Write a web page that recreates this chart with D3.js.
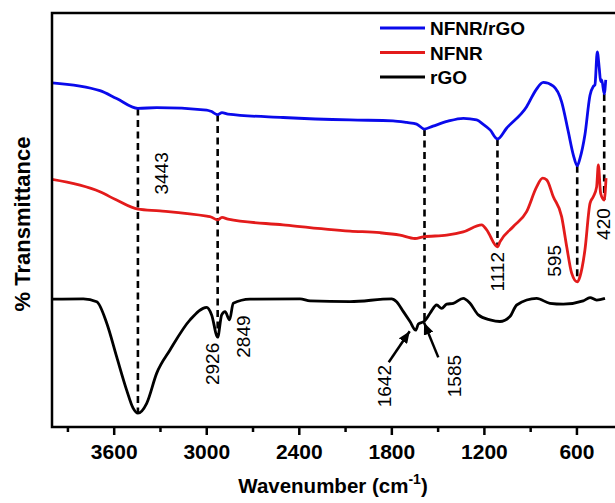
<!DOCTYPE html>
<html>
<head>
<meta charset="utf-8">
<script src="https://cdn.jsdelivr.net/npm/d3@7"></script>
<style>
  html, body { margin: 0; padding: 0; background: #fff; }
  svg { display: block; }
</style>
</head>
<body>
<svg id="chart" width="615" height="503"></svg>
<script>
// FTIR spectra (offset % transmittance, arbitrary units) vs wavenumber (cm^-1)
const nfnrRgoWn = [4000, 3689, 3581, 3443, 3321, 2997, 2969, 2926, 2898, 2859, 2502, 2068, 1789, 1700, 1636, 1585, 1530, 1433, 1333, 1247, 1206, 1160, 1112, 1053, 923, 862, 815, 750, 696, 653, 620, 595, 577, 545, 512, 491, 480, 465, 452, 443, 436, 420, 410];
const nfnrRgoT  = [83.1, 81.2, 79.3, 76.9, 77.1, 76.5, 76.2, 75.4, 75.9, 75.5, 74.7, 74.1, 73.9, 73.5, 73.1, 71.9, 72.6, 73.8, 74.5, 74.1, 73.1, 71.7, 69.5, 72.1, 77.3, 81.4, 83.2, 82.3, 78.5, 71.3, 65.6, 63.0, 64.8, 70.5, 80.1, 82.2, 82.6, 90.6, 86.6, 83.4, 83.8, 80.4, 83.8];

const nfnrWn = [4000, 3689, 3581, 3443, 3300, 2997, 2969, 2926, 2898, 2859, 2502, 2068, 1874, 1744, 1647, 1593, 1441, 1334, 1214, 1182, 1112, 1096, 1009, 923, 858, 819, 793, 750, 696, 663, 631, 595, 577, 545, 512, 491, 469, 458, 443, 420, 408];
const nfnrT  = [59.7, 56.7, 54.7, 52.5, 52.1, 50.8, 50.6, 49.9, 50.5, 50.1, 48.7, 47.2, 46.8, 46.2, 45.4, 45.8, 46.2, 47.0, 48.7, 47.5, 43.4, 44.6, 48.3, 51.9, 57.9, 60.0, 59.6, 55.5, 50.7, 43.4, 37.0, 34.9, 36.2, 42.6, 53.9, 55.5, 57.9, 63.2, 56.3, 54.7, 60.0];

const rgoWn = [4000, 3797, 3710, 3645, 3581, 3516, 3475, 3443, 3386, 3321, 3235, 3105, 2997, 2965, 2926, 2900, 2878, 2849, 2825, 2716, 2392, 2327, 2068, 1798, 1766, 1722, 1679, 1642, 1625, 1585, 1549, 1506, 1474, 1441, 1398, 1334, 1290, 1236, 1160, 1096, 1031, 987, 858, 772, 685, 556, 512, 469, 415];
const rgoT  = [30.7, 30.8, 30.1, 24.9, 16.8, 8.7, 4.4, 3.1, 5.5, 12.8, 18.4, 25.7, 28.7, 26.9, 21.5, 26.9, 27.7, 25.7, 29.7, 30.7, 30.8, 30.3, 30.1, 30.8, 30.1, 27.7, 25.3, 23.2, 24.7, 25.4, 27.3, 29.3, 28.5, 29.5, 29.7, 30.9, 29.7, 26.9, 25.7, 25.3, 26.5, 29.3, 30.9, 29.7, 29.5, 30.3, 31.1, 30.5, 30.9];

const seriesNames  = ["NFNR/rGO", "NFNR", "rGO"];
const seriesColors = ["#0a0aeb", "#e31b1b", "#000000"];

// Band positions marked with vertical dashed guides (from upper curve to lower curve)
const guideBands = [3443, 2926, 1585, 1112, 595, 420];
const guideUpper = ["NFNR/rGO", "NFNR/rGO", "NFNR/rGO", "NFNR/rGO", "NFNR/rGO", "NFNR/rGO"];
const guideLower = ["rGO", "rGO", "rGO", "NFNR", "NFNR", "NFNR"];

// Band labels written next to the guides
const bandLabels    = [3443, 2926, 2849, 1112, 595, 420];
const bandLabelRefs = ["NFNR/rGO", "rGO", "rGO", "NFNR", "NFNR", "NFNR"];

// Bands pointed out with arrows on the rGO curve
const arrowBands = [1642, 1585];

// Axis ticks
const majorTicks = [3600, 3000, 2400, 1800, 1200, 600];
const tickLabels = ["3600", "3000", "2400", "1800", "1200", "600"];
const minorTicks = [3900, 3300, 2700, 2100, 1500, 900];

const FONT = "'Liberation Sans', Arial, Helvetica, sans-serif";

const svg = d3.select("#chart");
const x = d3.scaleLinear().domain([4000, 350]).range([52, 615]);
const y = d3.scaleLinear().domain([0, 100]).range([426, 13]);

const series = [
  { name: seriesNames[0], color: seriesColors[0], wn: nfnrRgoWn, t: nfnrRgoT },
  { name: seriesNames[1], color: seriesColors[1], wn: nfnrWn, t: nfnrT },
  { name: seriesNames[2], color: seriesColors[2], wn: rgoWn, t: rgoT }
];
const byName = Object.fromEntries(series.map(s => [s.name, s]));

// linear lookup of a spectrum at a given wavenumber
function valueAt(s, w) {
  for (let i = 0; i < s.wn.length - 1; i++) {
    const a = s.wn[i], b = s.wn[i + 1];
    if (w <= a && w >= b) {
      const f = (a - w) / (a - b);
      return s.t[i] + f * (s.t[i + 1] - s.t[i]);
    }
  }
  return s.t[s.t.length - 1];
}

// clip curves to the plot area
svg.append("defs").append("clipPath").attr("id", "plotClip")
  .append("rect").attr("x", 52).attr("y", 13).attr("width", 570).attr("height", 414);

const line = d3.line()
  .x(d => x(d[0]))
  .y(d => y(d[1]))
  .curve(d3.curveMonotoneX);

// dashed guides
const guides = svg.append("g");
guideBands.forEach((w, i) => {
  const top = valueAt(byName[guideUpper[i]], w);
  const bot = valueAt(byName[guideLower[i]], w);
  guides.append("line")
    .attr("x1", x(w)).attr("x2", x(w))
    .attr("y1", y(top)).attr("y2", y(bot))
    .attr("stroke", "#000")
    .attr("stroke-width", 2.6)
    .attr("stroke-dasharray", "7,4.5");
});

// spectra
const curves = svg.append("g").attr("clip-path", "url(#plotClip)");
series.forEach(s => {
  curves.append("path")
    .datum(s.wn.map((w, i) => [w, s.t[i]]))
    .attr("fill", "none")
    .attr("stroke", s.color)
    .attr("stroke-width", 2.8)
    .attr("stroke-linejoin", "round")
    .attr("d", line);
});

// frame
svg.append("rect")
  .attr("x", 52).attr("y", 13)
  .attr("width", 570).attr("height", 414)
  .attr("fill", "none").attr("stroke", "#000").attr("stroke-width", 2.5);

// x axis ticks
const xAxisG = svg.append("g").attr("transform", "translate(0,427)");
xAxisG.call(
  d3.axisBottom(x).tickValues(majorTicks).tickSize(8).tickSizeOuter(0).tickPadding(9.5)
    .tickFormat((d, i) => tickLabels[i])
);
xAxisG.select(".domain").remove();
xAxisG.selectAll(".tick line").attr("stroke-width", 2.5);
xAxisG.selectAll(".tick text")
  .attr("font-family", FONT).attr("font-size", 21).attr("font-weight", "bold").attr("fill", "#000");

const xMinorG = svg.append("g").attr("transform", "translate(0,427)");
xMinorG.call(d3.axisBottom(x).tickValues(minorTicks).tickSize(5).tickSizeOuter(0).tickFormat(""));
xMinorG.select(".domain").remove();
xMinorG.selectAll(".tick line").attr("stroke-width", 2.5);

// axis titles
const xTitle = svg.append("text")
  .attr("x", 333).attr("y", 493)
  .attr("text-anchor", "middle")
  .attr("font-family", FONT).attr("font-size", 20.5).attr("font-weight", "bold");
xTitle.append("tspan").text("Wavenumber (cm");
xTitle.append("tspan").attr("font-size", 14).attr("dy", -9).text("-1");
xTitle.append("tspan").attr("dy", 9).text(")");

svg.append("text")
  .attr("transform", "translate(30,224) rotate(-90)")
  .attr("text-anchor", "middle")
  .attr("font-family", FONT).attr("font-size", 22).attr("font-weight", "bold")
  .text("% Transmittance");

// band labels (rotated), offsets from the referenced curve point
const labelOffsets = {
  3443: [23.5, 65], 2926: [-5.2, 26.7], 2849: [13.5, 16.7],
  1112: [-0.6, 25], 595: [-23.2, -21], 420: [-0.6, 24]
};
const labelsG = svg.append("g");
bandLabels.forEach((w, i) => {
  const v = valueAt(byName[bandLabelRefs[i]], w);
  const [dx, dy] = labelOffsets[w];
  labelsG.append("text")
    .attr("transform", `translate(${x(w) + dx},${y(v) + dy}) rotate(-90)`)
    .attr("text-anchor", "middle")
    .attr("dy", "0.36em")
    .attr("font-family", FONT).attr("font-size", 19)
    .text(String(w));
});

// arrows pointing at the rGO bands
svg.select("defs").append("marker")
  .attr("id", "arrowHead")
  .attr("viewBox", "0 0 12 10")
  .attr("refX", 12).attr("refY", 5)
  .attr("markerWidth", 12).attr("markerHeight", 10)
  .attr("markerUnits", "userSpaceOnUse")
  .attr("orient", "auto")
  .append("path").attr("d", "M0,0 L12,5 L0,10 Z").attr("fill", "#000");

const arrowStyle = {
  1642: { tip: [-6, 1], tail: [-27, 32], label: [-31.7, 56] },
  1585: { tip: [-0.5, 1.5], tail: [13.8, 36.3], label: [29.2, 55] }
};
const rgo = byName["rGO"];
arrowBands.forEach(w => {
  const px = x(w), py = y(valueAt(rgo, w));
  const st = arrowStyle[w];
  svg.append("line")
    .attr("x1", px + st.tail[0]).attr("y1", py + st.tail[1])
    .attr("x2", px + st.tip[0]).attr("y2", py + st.tip[1])
    .attr("stroke", "#000").attr("stroke-width", 2.5)
    .attr("marker-end", "url(#arrowHead)");
  svg.append("text")
    .attr("transform", `translate(${px + st.label[0]},${py + st.label[1]}) rotate(-90)`)
    .attr("text-anchor", "middle")
    .attr("dy", "0.36em")
    .attr("font-family", FONT).attr("font-size", 19)
    .text(String(w));
});

// legend
const legend = svg.append("g");
series.forEach((s, i) => {
  const base = 35 + i * 24.5;
  legend.append("line")
    .attr("x1", 380).attr("x2", 425)
    .attr("y1", base - 7).attr("y2", base - 7)
    .attr("stroke", s.color).attr("stroke-width", 2.8);
  legend.append("text")
    .attr("x", 430).attr("y", base)
    .attr("font-family", FONT).attr("font-size", 19).attr("font-weight", "bold")
    .text(s.name);
});
</script>
</body>
</html>
